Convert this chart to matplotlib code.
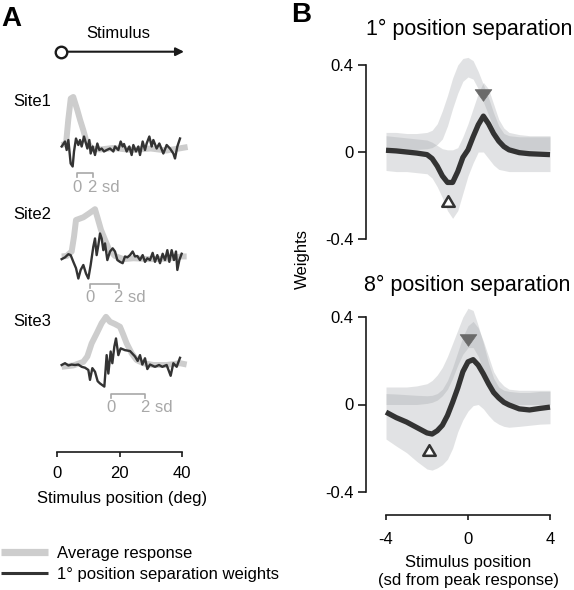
import matplotlib
matplotlib.use("Agg")
import matplotlib.pyplot as plt
from matplotlib.lines import Line2D
from matplotlib.path import Path

plt.rcParams['font.family'] = ['Liberation Sans', 'DejaVu Sans']

# ---------------- Panel A data (normalised responses, x in deg) ----------------
site_names = ['Site1', 'Site2', 'Site3']

s1_avg_x = [1.5, 2.9, 3.6, 4.4, 5.2, 6.5, 7.4, 8.4, 9.3, 10.0, 11.1, 13.8, 18, 24, 30, 35, 39, 41.8]
s1_avg_y = [0.04, 0.07, 0.54, 0.97, 1.0, 0.74, 0.54, 0.34, 0.14, 0.07, -0.03, -0.05, -0.02, -0.06, -0.03, -0.07, -0.03, 0.0]
s1_w_x = [1.49, 2.56, 3.09, 3.63, 4.37, 5.01, 5.44, 6.08, 6.83, 7.36, 7.89, 8.64, 9.28, 9.71, 10.35, 10.77,
          11.41, 12.16, 12.91, 13.55, 14.29, 15.04, 15.89, 16.96, 18.03, 18.56, 19.63, 20.37, 21.01, 21.44,
          22.29, 23.15, 23.89, 24.43, 25.28, 26.03, 26.56, 27.41, 28.16, 28.69, 29.55, 30.29, 30.83, 31.89,
          32.75, 34.03, 35.09, 36.16, 37.23, 37.76, 38.51, 39.36]
s1_w_y = [0.01, 0.11, -0.06, 0.14, -0.33, -0.39, -0.09, 0.17, 0.04, 0.14, 0.01, 0.21, 0.07, -0.03, 0.14, -0.13,
          0.01, -0.16, 0.07, -0.06, -0.03, -0.09, -0.06, -0.03, -0.09, 0.01, -0.06, 0.11, 0.01, 0.06,
          -0.09, 0.01, -0.16, 0.04, -0.09, 0.01, -0.16, 0.11, -0.06, 0.07, 0.21, 0.01, 0.14, -0.03,
          0.07, -0.13, 0.04, -0.03, -0.13, -0.23, 0.01, 0.17]

s2_avg_x = [1.49, 3.09, 4.69, 5.44, 6.08, 8.43, 10.35, 12.16, 13.01, 14.08, 15.36, 16.75, 18.56, 21.23, 24.43, 29.76, 35.09, 39.89, 41.49]
s2_avg_y = [-0.01, 0.0, 0.1, 0.43, 0.8, 0.86, 0.95, 1.04, 0.84, 0.58, 0.36, 0.13, 0.0, -0.07, -0.05, -0.07, -0.06, -0.01, -0.01]
s2_w_x = [1.49, 2.56, 3.63, 4.37, 5.23, 6.08, 6.83, 7.57, 8.43, 9.28, 10.03, 10.77, 11.63, 12.16, 12.69, 13.23,
          13.76, 14.29, 14.83, 15.36, 16.11, 16.96, 17.81, 18.56, 19.31, 20.16, 21.01, 21.76, 22.51, 23.36,
          24.21, 24.96, 25.71, 26.56, 27.41, 28.16, 28.91, 29.76, 30.61, 31.36, 32.11, 32.96, 33.81, 34.56,
          35.31, 35.95, 36.69, 37.44, 38.08, 38.51, 39.15, 39.89]
s2_w_y = [-0.07, -0.03, 0.04, 0.02, -0.13, -0.27, -0.50, -0.31, -0.20, -0.39, -0.50, -0.20, 0.21, 0.39, 0.02, 0.24,
          0.50, 0.39, 0.13, 0.28, -0.09, 0.10, 0.17, 0.10, -0.09, -0.13, -0.16, -0.01, -0.03, 0.02,
          0.10, -0.01, 0.0, -0.09, 0.02, -0.13, -0.05, -0.09, 0.07, -0.13, 0.02, -0.16, 0.05, -0.09,
          0.13, -0.13, 0.13, -0.09, 0.10, -0.31, -0.09, 0.05]

s3_avg_x = [1.49, 5.23, 8.43, 9.71, 11.09, 12.69, 14.29, 15.68, 16.96, 18.56, 20.16, 21.23, 22.29, 23.89, 25.49, 27.63, 30.83, 35.09, 39.36, 41.49]
s3_avg_y = [-0.04, -0.01, 0.07, 0.19, 0.48, 0.70, 0.93, 1.07, 0.96, 0.91, 0.85, 0.67, 0.48, 0.26, 0.11, 0.04, 0.0, 0.0, 0.04, 0.01]
s3_w_x = [1.49, 2.56, 3.63, 4.69, 5.76, 6.83, 7.89, 8.96, 10.03, 10.56, 11.31, 12.16, 13.01, 13.76, 15.15, 15.89,
          16.43, 17.17, 17.71, 18.35, 18.88, 19.63, 20.37, 21.76, 23.36, 24.96, 25.81, 26.56, 27.31, 28.16,
          28.91, 29.76, 31.36, 32.64, 33.71, 35.09, 36.37, 37.23, 38.29, 39.36]
s3_w_y = [0.0, 0.04, -0.01, 0.01, 0.0, 0.01, -0.04, -0.06, -0.11, -0.33, -0.07, -0.15, -0.36, -0.41, -0.48, 0.22,
          -0.19, 0.30, 0.04, 0.41, 0.59, 0.22, 0.37, 0.33, 0.31, 0.19, 0.09, 0.22, 0.01, 0.15,
          -0.09, 0.01, -0.04, 0.0, -0.04, 0.0, -0.24, 0.04, -0.04, 0.16]

site_zero_deg = [6.4, 10.6, 17.3]     # start of the "0 .. 2 sd" scale bars
site_2sd_deg = [5.1, 9.2, 10.9]       # length of 2 sd in degrees

a_ticks = [0, 20, 40]

# ---------------- Panel B data ----------------
b_x = [-4, -3.5, -3, -2.5, -2, -1.75, -1.5, -1.25, -1, -0.75, -0.5, -0.25, 0, 0.25, 0.5, 0.75, 1, 1.25, 1.5, 1.75, 2, 2.5, 3, 3.5, 4]

avg1_hi = [0.09, 0.09, 0.085, 0.085, 0.09, 0.10, 0.13, 0.19, 0.26, 0.34, 0.40, 0.43, 0.435, 0.42, 0.37, 0.31, 0.25, 0.18, 0.12, 0.085, 0.075, 0.07, 0.07, 0.07, 0.07]
avg1_lo = [0.01, 0.01, 0.01, 0.012, 0.015, 0.02, 0.035, 0.06, 0.12, 0.2, 0.27, 0.325, 0.345, 0.335, 0.29, 0.23, 0.17, 0.11, 0.065, 0.035, 0.02, 0.01, 0.008, 0.008, 0.008]
w1 = [0.008, 0.005, 0.0, -0.005, -0.012, -0.03, -0.065, -0.11, -0.14, -0.14, -0.09, -0.025, 0.01, 0.07, 0.125, 0.165, 0.13, 0.085, 0.05, 0.025, 0.01, -0.003, -0.008, -0.01, -0.012]
w1_hi = [0.075, 0.07, 0.065, 0.06, 0.055, 0.045, 0.03, 0.015, 0.01, 0.01, 0.02, 0.07, 0.13, 0.2, 0.27, 0.32, 0.29, 0.22, 0.15, 0.11, 0.09, 0.08, 0.075, 0.075, 0.075]
w1_lo = [-0.085, -0.09, -0.09, -0.095, -0.10, -0.12, -0.16, -0.21, -0.27, -0.305, -0.27, -0.19, -0.11, -0.05, 0.0, 0.0, -0.03, -0.06, -0.08, -0.085, -0.09, -0.09, -0.09, -0.09, -0.09]

avg8_hi = [0.08, 0.08, 0.08, 0.085, 0.095, 0.11, 0.135, 0.17, 0.22, 0.28, 0.34, 0.40, 0.44, 0.43, 0.36, 0.28, 0.19, 0.12, 0.08, 0.065, 0.06, 0.055, 0.055, 0.06, 0.06]
avg8_lo = [0.0, 0.0, 0.0, 0.0, 0.005, 0.01, 0.02, 0.04, 0.07, 0.12, 0.18, 0.23, 0.26, 0.26, 0.22, 0.15, 0.09, 0.05, 0.025, 0.01, 0.005, 0.0, 0.0, 0.0, 0.0]
w8 = [-0.035, -0.06, -0.08, -0.105, -0.13, -0.135, -0.12, -0.095, -0.05, 0.01, 0.075, 0.15, 0.195, 0.205, 0.18, 0.14, 0.095, 0.055, 0.03, 0.01, -0.002, -0.02, -0.025, -0.018, -0.012]
w8_hi = [0.05, 0.048, 0.045, 0.042, 0.04, 0.042, 0.05, 0.07, 0.11, 0.17, 0.24, 0.31, 0.36, 0.38, 0.35, 0.29, 0.22, 0.15, 0.11, 0.085, 0.07, 0.065, 0.065, 0.065, 0.065]
w8_lo = [-0.158, -0.19, -0.22, -0.26, -0.295, -0.30, -0.29, -0.275, -0.25, -0.2, -0.125, -0.07, -0.03, -0.005, 0.0, -0.02, -0.05, -0.075, -0.09, -0.1, -0.104, -0.1, -0.095, -0.09, -0.088]

peak_x = [0.75, 0.02]      # filled down-triangles
peak_y = [0.26, 0.294]
trough_x = [-0.96, -1.89]  # open up-triangles
trough_y = [-0.227, -0.21]

b_titles = ['1° position separation', '8° position separation']
b_yticks = [-0.4, 0, 0.4]
b_yticklabels = ['-0.4', '0', '0.4']
b_xticks = [-4, 0, 4]
b_xticklabels = ['-4', '0', '4']

# ---------------- figure ----------------
W, H = 574, 590
fig = plt.figure(figsize=(W / 100, H / 100), dpi=100)

def fx(px):
    return px / W

def fy(py):
    return 1 - py / H

def add_axes_px(left, top, right, bottom):
    return fig.add_axes([fx(left), fy(bottom), (right - left) / W, (bottom - top) / H])

DARK = '#333333'
GRAY_A = '#cdcdcd'
SCALE = '#a8a8a8'
AXC = '#1a1a1a'
FS = 12

# overlay for stimulus arrow
ov = fig.add_axes([0, 0, 1, 1])
ov.set_xlim(0, W)
ov.set_ylim(H, 0)
ov.axis('off')
ov.annotate('', xy=(184, 51.7), xytext=(65, 51.7),
            arrowprops=dict(arrowstyle='-|>', color=AXC, lw=1.5, mutation_scale=12, shrinkA=0, shrinkB=0))
ov.plot([60.7], [51.7], 'o', ms=8.3, mfc='white', mec=AXC, mew=1.7, zorder=5)
fig.text(fx(118.7), fy(33), 'Stimulus', ha='center', va='center', fontsize=FS)

# panel A sites
px0, px40 = 57.0, 182.0
ppd = (px40 - px0) / 40.0
A_L, A_R = 50, 195
a_xlim = ((A_L - px0) / ppd, (A_R - px0) / ppd)

sites = [(s1_avg_x, s1_avg_y, s1_w_x, s1_w_y),
         (s2_avg_x, s2_avg_y, s2_w_x, s2_w_y),
         (s3_avg_x, s3_avg_y, s3_w_x, s3_w_y)]
site_base = [147, 256, 365]
site_amp = [50, 45, 45]
site_label_y = [101, 214, 321]
bracket_off = [26.5, 28.3, 29.3]
label_off = [41, 42, 43]

for i, (ax_, ay_, wx_, wy_) in enumerate(sites):
    base, amp = site_base[i], site_amp[i]
    top, bot = base - 70, base + 55
    ax = add_axes_px(A_L, top, A_R, bot)
    ax.set_xlim(*a_xlim)
    ax.set_ylim((base - bot) / amp, (base - top) / amp)
    ax.axis('off')
    ax.plot(ax_, ay_, color=GRAY_A, lw=4.3, solid_joinstyle='round', solid_capstyle='butt', clip_on=False)
    ax.plot(wx_, wy_, color=DARK, lw=1.7, clip_on=False)
    z0 = site_zero_deg[i]
    z2 = z0 + site_2sd_deg[i]
    yb = -bracket_off[i] / amp
    yt = -(bracket_off[i] + 4) / amp
    ax.plot([z0, z0, z2, z2], [yt, yb, yb, yt], color=SCALE, lw=1.2, clip_on=False)
    yl = -label_off[i] / amp
    ax.text(z0, yl, '0', ha='center', va='center', fontsize=FS, color=SCALE)
    ax.annotate('2 sd', xy=(z2, yl), xytext=(-3.3, 0), textcoords='offset points',
                ha='left', va='center', fontsize=FS, color=SCALE)
    fig.text(fx(13), fy(site_label_y[i]), site_names[i], ha='left', va='center', fontsize=FS)

# panel A x axis
axx = add_axes_px(A_L, 430, A_R, 452)
axx.set_xlim(*a_xlim)
axx.set_ylim(0, 1)
axx.patch.set_visible(False)
for s in ['left', 'right', 'top']:
    axx.spines[s].set_visible(False)
axx.spines['bottom'].set_bounds(0, 40)
axx.spines['bottom'].set_linewidth(1.2)
axx.spines['bottom'].set_color(AXC)
axx.set_yticks([])
axx.set_xticks(a_ticks)
axx.set_xticklabels([str(t) for t in a_ticks])
axx.tick_params(axis='x', direction='out', length=3.5, width=1.2, color=AXC, labelsize=FS, pad=6.4)
axx.set_xlabel('Stimulus position (deg)', fontsize=FS, labelpad=7.5)

# legend
leg_handles = [Line2D([], [], color=GRAY_A, lw=5.2, solid_capstyle='butt'),
               Line2D([], [], color=DARK, lw=2.2, solid_capstyle='butt')]
fig.legend(leg_handles, ['Average response', '1° position separation weights'],
           loc='upper left', bbox_to_anchor=(fx(1), fy(546)), frameon=False, fontsize=FS,
           handlelength=2.8, handletextpad=0.55, labelspacing=0.38, borderpad=0, borderaxespad=0)

# panel B
BAND = '#9ea2a6'
b_axes = [add_axes_px(386, 239 - 0.85 * 217.5, 550, 239),
          add_axes_px(386, 492 - 0.85 * 218.75, 550, 492)]
b_data = [(avg1_lo, avg1_hi, w1, w1_lo, w1_hi), (avg8_lo, avg8_hi, w8, w8_lo, w8_hi)]
title_pos = [(366, 35), (364, 291.5)]

up_tri = Path([(-1, -0.85), (1, -0.85), (0, 0.85), (-1, -0.85)],
              [Path.MOVETO, Path.LINETO, Path.LINETO, Path.CLOSEPOLY])
down_tri = Path([(-1, 0.7), (1, 0.7), (0, -0.7), (-1, 0.7)],
                [Path.MOVETO, Path.LINETO, Path.LINETO, Path.CLOSEPOLY])

for k, ax in enumerate(b_axes):
    alo, ahi, wm, wlo, whi = b_data[k]
    ax.set_xlim(-4, 4)
    ax.set_ylim(-0.4, 0.45)
    ax.patch.set_visible(False)
    ax.fill_between(b_x, alo, ahi, color=BAND, alpha=0.3, lw=0, clip_on=False)
    ax.fill_between(b_x, wlo, whi, color=BAND, alpha=0.3, lw=0, clip_on=False)
    ax.plot(b_x, wm, color=DARK, lw=3.8, solid_capstyle='butt', clip_on=False, zorder=3)
    ax.plot([peak_x[k]], [peak_y[k]], marker=down_tri, ms=12, mfc='#6a6a6a', mec='#6a6a6a',
            mew=0.5, ls='none', zorder=4, clip_on=False)
    ax.plot([trough_x[k]], [trough_y[k]], marker=up_tri, ms=9, mfc='white', mec=DARK,
            mew=1.8, ls='none', zorder=4, clip_on=False)
    for s in ['right', 'top', 'bottom']:
        ax.spines[s].set_visible(False)
    ax.spines['left'].set_position(('outward', 14.4))
    ax.spines['left'].set_bounds(-0.4, 0.4)
    ax.spines['left'].set_linewidth(1.2)
    ax.spines['left'].set_color(AXC)
    ax.set_yticks(b_yticks)
    ax.set_yticklabels(b_yticklabels)
    ax.tick_params(axis='y', direction='out', length=5.5, width=1.2, color=AXC, labelsize=FS, pad=3.5)
    ax.set_xticks([])
    fig.text(fx(title_pos[k][0]), fy(title_pos[k][1]), b_titles[k], fontsize=15.5, va='baseline', ha='left')

axb = b_axes[1]
axb.spines['bottom'].set_visible(True)
axb.spines['bottom'].set_position(('outward', 16.6))
axb.spines['bottom'].set_bounds(-4, 4)
axb.spines['bottom'].set_linewidth(1.2)
axb.spines['bottom'].set_color(AXC)
axb.set_xticks(b_xticks)
axb.set_xticklabels(b_xticklabels)
axb.tick_params(axis='x', direction='out', length=3.5, width=1.2, color=AXC, labelsize=FS, pad=8.5)
axb.set_xlabel('Stimulus position\n(sd from peak response)', fontsize=FS, labelpad=6, linespacing=1.25)

fig.text(fx(302), fy(259), 'Weights', rotation=90, ha='center', va='center', fontsize=FS)

fig.text(fx(1), fy(6), 'A', fontsize=20, fontweight='bold', va='top', ha='left')
fig.text(fx(291), fy(2), 'B', fontsize=20, fontweight='bold', va='top', ha='left')

fig.savefig('out.png', dpi=100)
